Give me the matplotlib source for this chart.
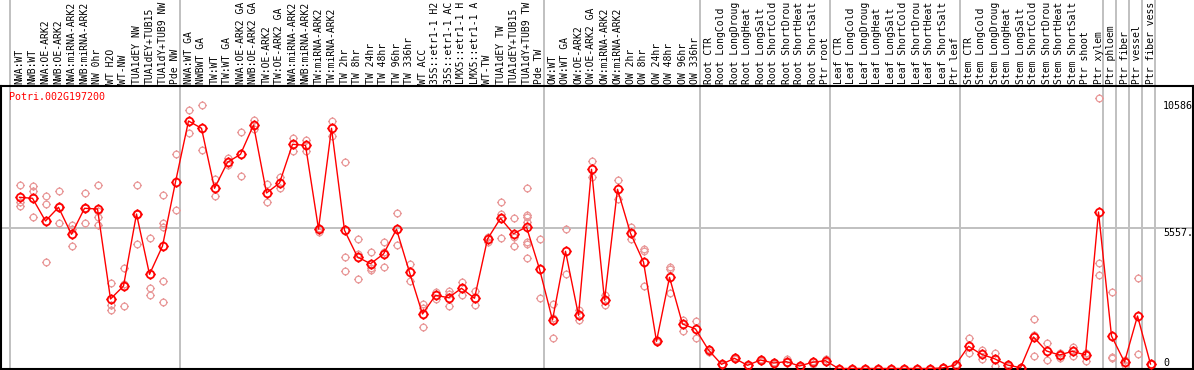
import matplotlib
matplotlib.use("Agg")
import matplotlib.pyplot as plt
from matplotlib.path import Path
from matplotlib.transforms import blended_transform_factory
import numpy as np

# category labels as visible in the reference (long names are cut at the top edge there)
categories = [
    "NWA:WT", "NWB:WT", "NWA:OE-ARK2", "NWB:OE-ARK2", "NWA:miRNA-ARK2", "NWB:miRNA-ARK2",
    "NW 0hr", "WT H2O", "WT-NW", "TUA1dEY NW", "TUA1dEY+TUB15", "TUA1dY+TUB9 NW", "Pde NW",
    "NWA:WT GA", "NWBWT GA", "TW:WT", "TW:WT GA", "NWA:OE-ARK2 GA", "NWB:OE-ARK2 GA",
    "TW:OE-ARK2", "TW:OE-ARK2 GA", "NWA:miRNA-ARK2", "NWB:miRNA-ARK2", "TW:miRNA-ARK2",
    "TW:miRNA-ARK2", "TW 2hr", "TW 8hr", "TW 24hr", "TW 48hr", "TW 96hr", "TW 336hr",
    "WT ACC", "35S::etr1-1 H2", "35S::etr1-1 AC", "LMX5::etr1-1 H", "LMX5::etr1-1 A",
    "WT-TW", "TUA1dEY TW", "TUA1dEY+TUB15", "TUA1dY+TUB9 TW", "Pde TW",
    "OW:WT", "OW:WT GA", "OW:OE-ARK2", "OW:OE-ARK2 GA", "OW:miRNA-ARK2", "OW:miRNA-ARK2",
    "OW 2hr", "OW 8hr", "OW 24hr", "OW 48hr", "OW 96hr", "OW 336hr",
    "Root CTR", "Root LongCold", "Root LongDroug", "Root LongHeat", "Root LongSalt",
    "Root ShortCold", "Root ShortDrou", "Root ShortHeat", "Root ShortSalt", "Ptr root",
    "Leaf CTR", "Leaf LongCold", "Leaf LongDroug", "Leaf LongHeat", "Leaf LongSalt",
    "Leaf ShortCold", "Leaf ShortDrou", "Leaf ShortHeat", "Leaf ShortSalt", "Ptr leaf",
    "Stem CTR", "Stem LongCold", "Stem LongDroug", "Stem LongHeat", "Stem LongSalt",
    "Stem ShortCold", "Stem ShortDrou", "Stem ShortHeat", "Stem ShortSalt", "Ptr shoot",
    "Ptr xylem", "Ptr phloem", "Ptr fiber", "Ptr vessel", "Ptr fiber vess",
]

means = [
    6786, 6747, 5847, 6390, 5320, 6350, 6323, 2755, 3270, 6124, 3734, 4856, 7393,
    9811, 9522, 7143, 8174, 8491, 9652, 6957, 7353, 8887, 8848, 5530, 9522, 5478,
    4420, 4154, 4539, 5518, 3813, 2160, 2902, 2807, 3179, 2783, 5133, 5954, 5343, 5609, 3944,
    1923, 4646, 2109, 7896, 2703, 7103, 5359, 4222, 1078, 3615, 1764, 1566,
    733, 166, 404, 127, 337, 218, 270, 99, 246, 309,
    0, 0, 0, 0, 0, 0, 0, 0, 20, 139,
    880, 563, 388, 139, 32, 1249, 694, 535, 682, 535,
    6204, 1288, 258, 2081, 178,
]

replicates = [
    [7274, 6612, 6430], [7234, 7036, 5994], [6838, 6509, 4222], [7024, 6390, 5756],
    [5688, 5518, 4844], [6957, 6350, 5756], [7274, 6243, 6017, 5688], [3389, 2517, 2331],
    [3984, 3361, 2478], [7262, 6124, 4923], [5173, 3191, 2902], [6878, 5756, 5621, 3469, 2624],
    [8491, 6283],
    [10247, 9323], [10433, 8650], [7500, 6826], [8332, 8067], [9375, 7631], [9839, 9482],
    [7314, 6600], [7591, 7143], [9137, 8622], [9070, 8634], [5581, 5423], [9823, 9216],
    [8174, 4408, 3865], [5133, 4527, 3548], [4606, 3996, 3893], [5014, 4630, 4012],
    [6152, 4884], [4131, 3457], [2557, 2386, 1633], [3032, 2767], [3072, 2941, 2478],
    [3441, 2925], [3084, 2505], [5213, 5014], [6600, 6124, 5185], [5954, 5225, 4844],
    [7155, 6085, 6005, 5795, 5014, 4947, 4380], [5133, 2795],
    [2545, 1990, 1209], [5518, 3734], [2319, 1923], [8225, 7579], [2925, 2505], [7472, 6719],
    [5621, 5122], [4725, 4670, 3258], [1130, 1039], [4035, 3932, 2981], [1923, 1498], [1883, 1197],
    [785, 654], [178, 127], [468, 365], [151, 87], [377, 309], [246, 190], [388, 258],
    [151, 71], [285, 178], [388, 258],
    [0, 0], [0, 0], [0, 0], [0, 0], [0, 0], [0, 0], [0, 0], [0, 0], [20, 40], [178, 99],
    [1197, 626], [733, 365], [614, 99], [178, 99], [20, 40], [1950, 1328, 496], [999, 337],
    [603, 404], [864, 507], [626, 309],
    [10711, 4170, 3694], [3021, 468, 428], [337, 139], [3576, 563], [178, 159],
]

gene_label = "Potri.002G197200"
ytick_values = [0, 5557, 10586]
ytick_labels = ["0", "5557.", "10586"]
group_ends = [12, 40, 52, 62, 72, 83, 84, 85, 86, 87]

W, H = 1194, 370
fig = plt.figure(figsize=(W / 100, H / 100), dpi=100)
fig.patch.set_facecolor("white")

ax_left, ax_right = 1, 1193
ax_top, ax_bottom = 85.7, 369
ax = fig.add_axes([ax_left / W, (H - ax_bottom) / H, (ax_right - ax_left) / W, (ax_bottom - ax_top) / H])

k = 39.64
ax.set_ylim((368.5 - ax_bottom) * k, (368.5 - ax_top) * k)
ax.set_xlim((ax_left - 19.5) / 13, (ax_right - 19.5) / 13)
ax.set_xticks([])
ax.set_yticks([])
for s in ax.spines.values():
    s.set_linewidth(1.5)
    s.set_color("black")

mono = "DejaVu Sans Mono"
fs = 7.0

# vertical group separators spanning the whole figure height
bt = blended_transform_factory(ax.transData, fig.transFigure)
sep_positions = [-0.72] + [e + 0.38 for e in group_ends]
for xp in sep_positions:
    ax.plot([xp, xp], [0, 1], transform=bt, color="#c0c0c0", lw=1.4, clip_on=False, zorder=0.5)

ax.axhline(5557, color="#c0c0c0", lw=1.4, zorder=0.5)

# custom marker: circle with small ticks
circ = Path.unit_circle()
tk = Path([(0, 1), (0, 1.35), (0, -1), (0, -1.35), (1, 0), (1.35, 0), (-1, 0), (-1.35, 0)],
          [Path.MOVETO, Path.LINETO] * 4)
marker = Path.make_compound_path(circ, tk)

x = np.arange(len(categories))
for i, reps in enumerate(replicates):
    ax.plot([i] * len(reps), reps, linestyle="none", marker=marker, markersize=6.4,
            markerfacecolor="none", markeredgecolor="#e99a9a", markeredgewidth=0.9, zorder=2)

ax.plot(x, means, color="#ff0000", lw=1.0, zorder=3)
ax.plot(x, means, linestyle="none", marker=marker, markersize=7.4, markerfacecolor="none",
        markeredgecolor="#ff0000", markeredgewidth=1.3, zorder=4)

# category labels (rotated) above the plot
for i, lab in enumerate(categories):
    ax.text(i, (H - 83.5) / H, lab, transform=bt, rotation=90, ha="center", va="bottom",
            fontsize=fs, family=mono, color="black", clip_on=False)

fig.text(9 / W, (H - 97) / H, gene_label, ha="left", va="center", fontsize=7.2, family=mono,
         color="#ff0000")

# y tick labels at right, inside plot
bt2 = blended_transform_factory(fig.transFigure, ax.transData)
for v, lab in zip(ytick_values, ytick_labels):
    ax.text(1163 / W, v, lab, transform=bt2, ha="left", va=("bottom" if v == 0 else "top"),
            fontsize=7.2, family=mono, color="black", clip_on=False)

fig.savefig("out.png", dpi=100)
